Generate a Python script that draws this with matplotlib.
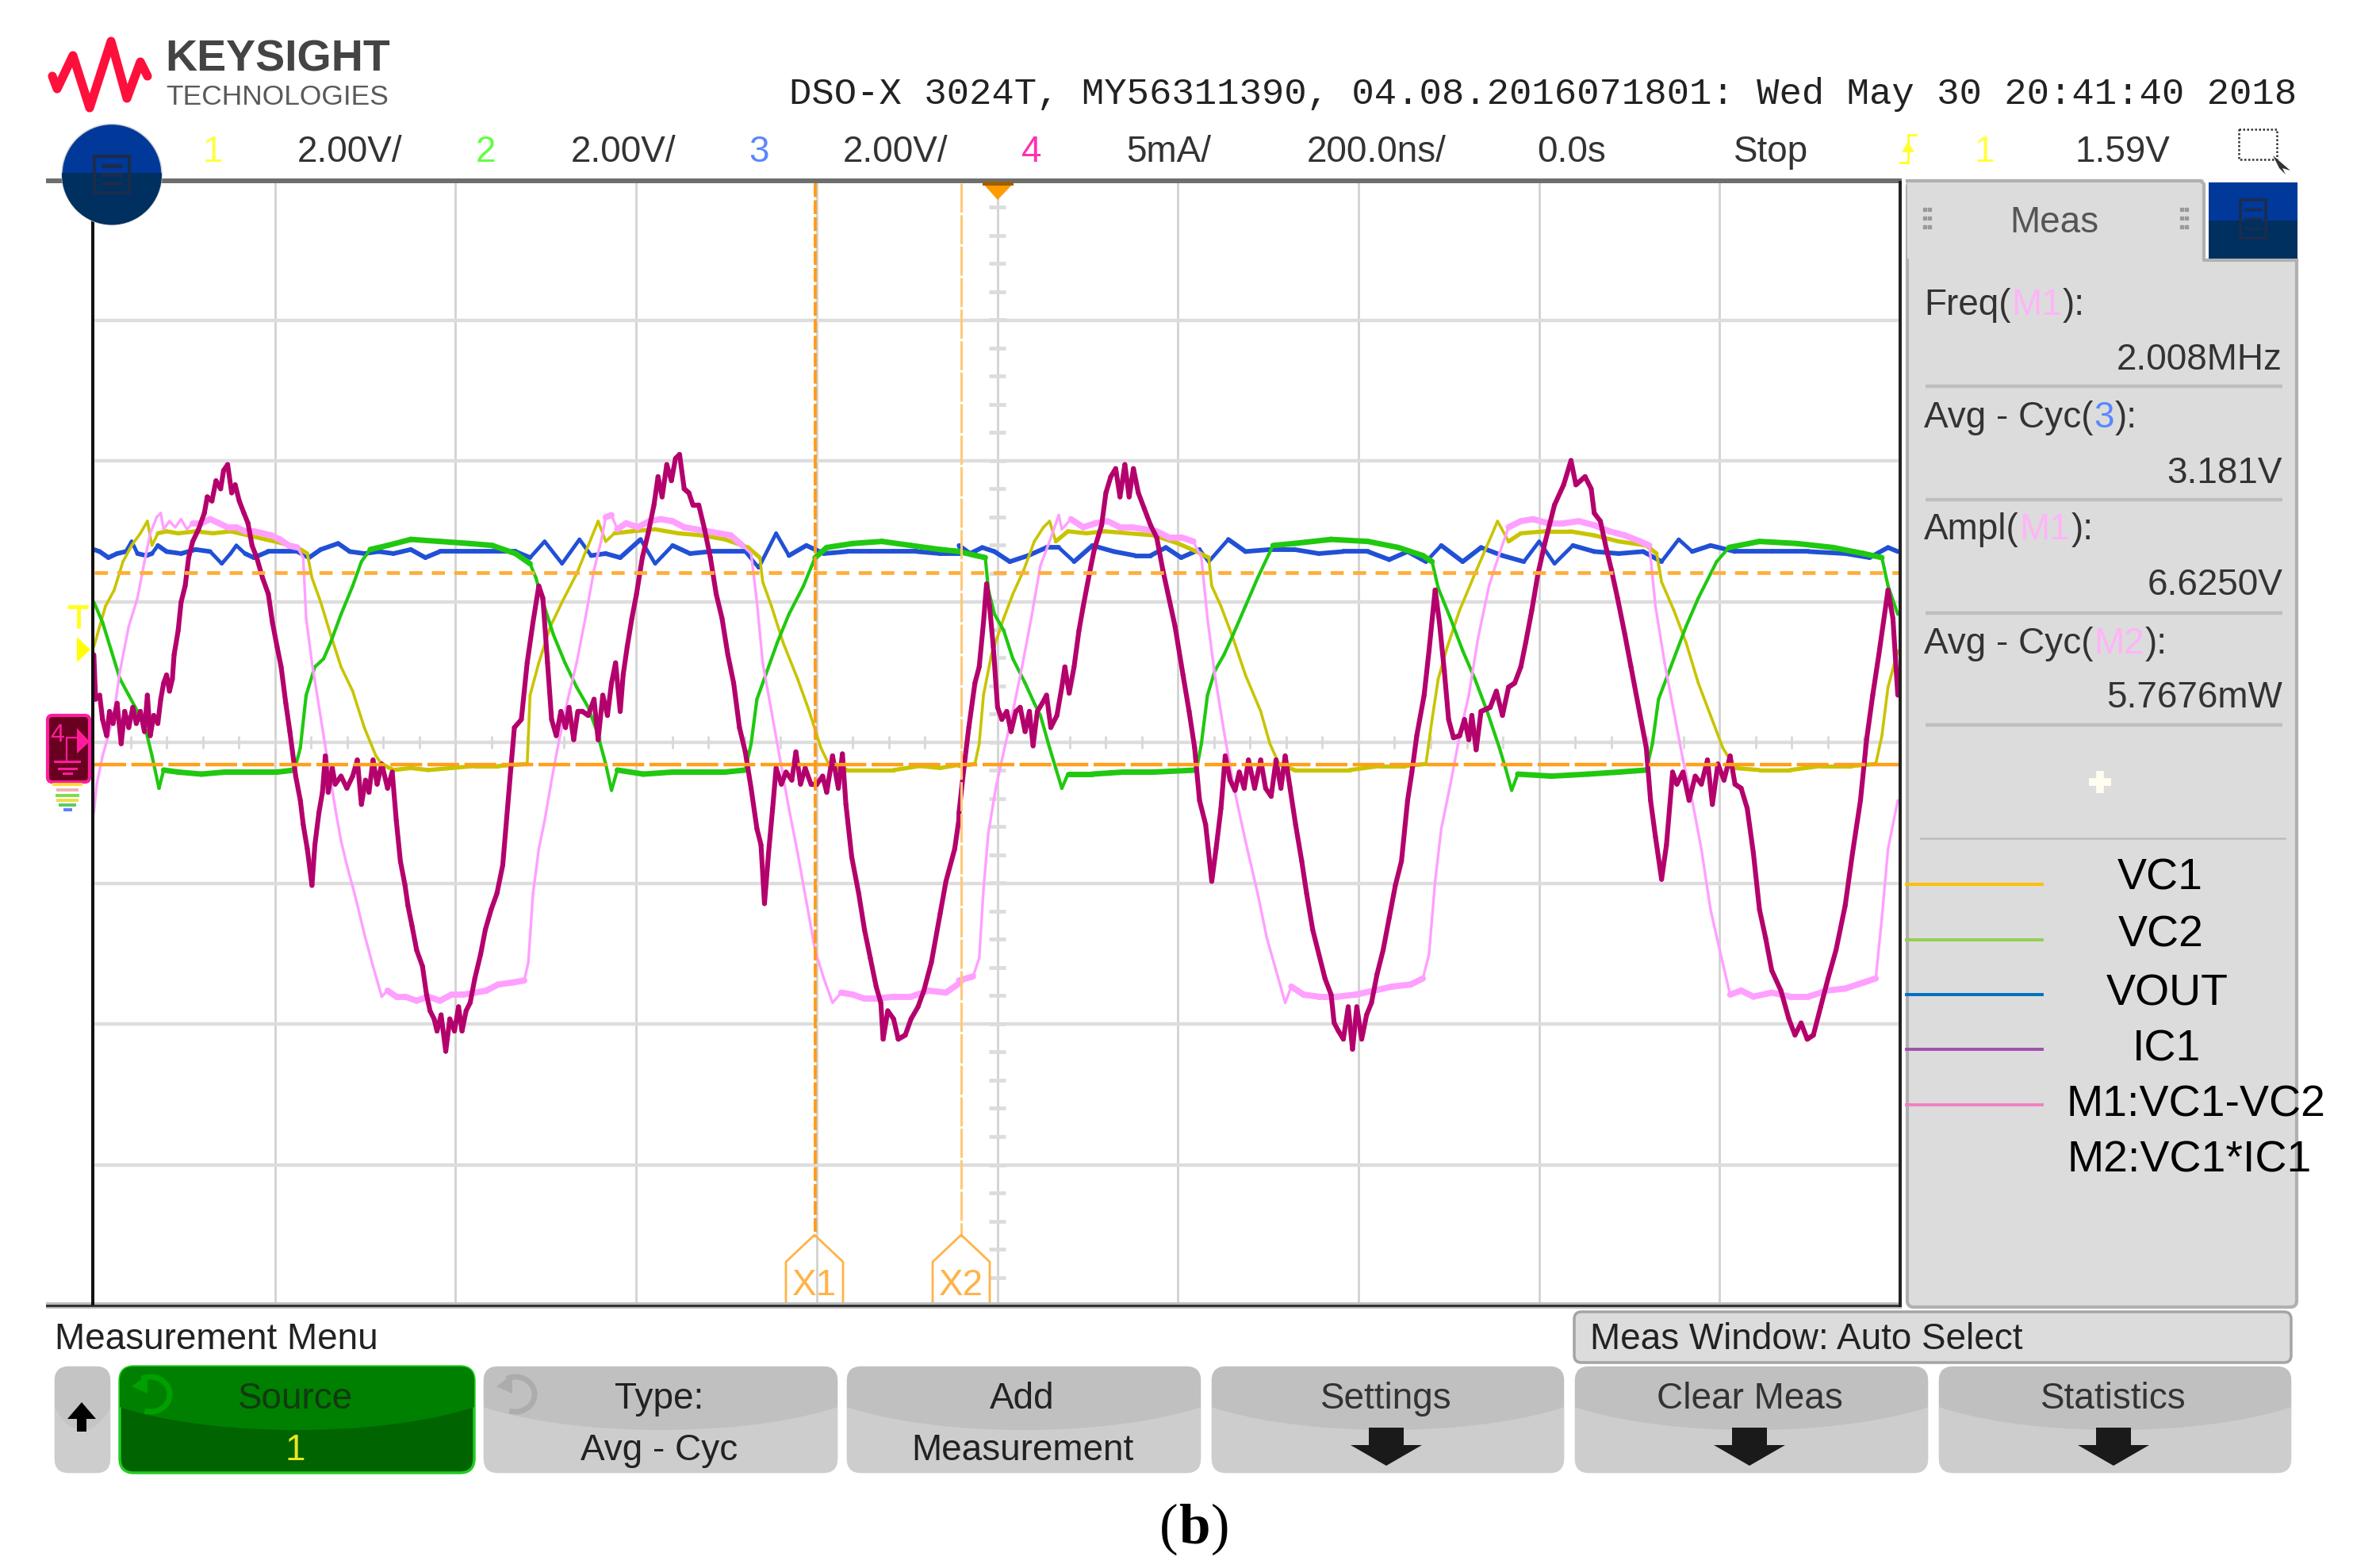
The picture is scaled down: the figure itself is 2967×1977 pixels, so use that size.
import numpy as np
import matplotlib
matplotlib.use("Agg")
import matplotlib.pyplot as plt
from matplotlib.collections import LineCollection
from matplotlib.patches import FancyBboxPatch, Rectangle, Ellipse, Polygon, Arc

# ---------- trace readings: (screen column, screen row) taken from two views ----------
IC1_A = [(25,540),(28,650),(35,640),(40,700),(47,740),(52,680),(58,710),(65,660),(72,760),(78,680),(85,720),(92,670),(98,710),(105,680),(112,730),(117,640),(122,740),(128,690),(135,710),(140,650),(145,610),(150,590),(155,630),(160,600),(163,540),(170,480),(175,410),(182,370),(188,300),(195,260),(205,230),(215,190),(220,150),(228,160),(235,110),(243,130),(248,85),(255,70),(262,140),(268,120),(275,160),(283,190),(290,215),(297,270),(305,300),(315,350),(325,390),(332,460),(340,520),(347,570),(355,660),(362,730),(372,840),(380,900),(385,960),(392,1020),(400,1110),(405,1010),(412,930),(418,880),(423,790),(428,880),(435,820),(440,860),(450,840),(460,870),(470,840),(478,800),(485,910),(492,850),(498,880),(505,800),(512,860),(520,810),(530,870),(538,830),(545,950),(552,1050),(560,1110),(565,1160),(572,1210),(580,1270),(590,1310),(597,1380),(603,1420),(610,1440),(615,1470),(622,1430),(630,1520),(637,1440),(645,1470),(652,1410),(658,1470),(665,1420),(672,1400),(680,1340),(690,1280),(698,1220),(708,1170),(718,1130),(728,1060),(735,940),(742,820),(748,720),(760,700),(770,560),(780,460),(790,370),(797,400),(805,560),(812,700),(820,740),(828,680),(836,720),(842,670),(850,750),(857,680),(865,680),(875,690),(885,650),(892,750),(900,640),(908,690),(915,610),(922,560),(930,680),(935,590),(942,520),(950,450),(958,390),(968,300),(978,240),(988,170),(995,100),(1002,150),(1010,70),(1018,110),(1025,55),(1032,45),(1040,130),(1048,140),(1055,170),(1065,170),(1075,230),(1085,300),(1095,390),(1105,450),(1115,540),(1125,610),(1135,720),(1145,780),(1155,870),(1165,970),(1172,1010),(1178,1155),(1185,1030),(1192,920),(1198,820),(1207,860),(1215,830),(1225,850),(1232,780),(1240,860),(1248,820),(1258,860),(1268,860),(1278,840),(1285,880),(1295,790),(1305,870),(1312,785),(1318,910),(1328,1040),(1340,1130),(1350,1220),(1360,1290),(1370,1360),(1378,1400),(1382,1490),(1390,1420),(1400,1440),(1408,1490),(1420,1480),(1430,1440),(1442,1410),(1452,1370),(1465,1300),(1480,1180),(1490,1100),(1505,1020),(1512,950)]
IC1_B = [(12,930),(20,820),(28,720),(38,610),(45,570),(52,460),(57,365),(62,420),(68,520),(75,670),(82,700),(90,680),(97,730),(105,680),(112,670),(120,730),(127,680),(133,765),(140,680),(148,660),(155,640),(162,720),(172,690),(180,620),(185,570),(192,635),(200,570),(208,480),(215,420),(225,340),(233,280),(245,220),(252,140),(260,100),(268,80),(275,150),(283,70),(290,150),(297,80),(305,140),(315,180),(325,220),(335,250),(345,330),(355,400),(365,470),(378,590),(388,680),(397,770),(405,900),(415,960),(425,1100),(432,1020),(440,920),(447,790),(455,850),(463,875),(470,830),(478,870),(485,800),(495,870),(505,800),(513,870),(522,890),(530,800),(538,870),(545,790),(553,870),(562,960),(572,1050),(580,1130),(590,1220),(600,1280),(610,1340),(620,1380),(625,1450),(632,1470),(640,1490),(648,1410),(655,1515),(662,1410),(670,1490),(678,1430),(686,1400),(695,1330),(705,1270),(715,1190),(725,1110),(735,1050),(745,900),(752,830),(760,740),(772,640),(780,530),(790,380),(797,460),(805,580),(812,700),(820,745),(830,740),(838,700),(845,750),(850,690),(857,775),(865,680),(880,670),(890,630),(900,690),(910,620),(920,610),(930,570),(938,510),(948,430),(958,340),(970,260),(985,170),(1000,120),(1012,60),(1020,120),(1035,100),(1045,130),(1050,190),(1060,210),(1070,280),(1078,330),(1088,400),(1100,490),(1110,570),(1125,690),(1135,770),(1142,900),(1150,990),(1160,1095),(1168,1010),(1178,830),(1185,860),(1195,830),(1205,900),(1215,840),(1225,860),(1235,800),(1243,910),(1252,810),(1262,850),(1272,790),(1280,860),(1290,870),(1300,920),(1310,1030),(1320,1170),(1330,1240),(1340,1320),(1355,1370),(1368,1440),(1378,1480),(1388,1450),(1398,1490),(1408,1480),(1420,1410),(1432,1340),(1445,1270),(1460,1160),(1472,1030),(1485,900),(1495,750),(1505,640),(1515,540),(1530,380),(1538,450),(1546,640)]
M1_A = [(25,930),(30,860),(40,790),(50,740),(60,680),(70,580),(85,470),(100,400),(112,310),(122,240),(133,200),(140,190),(145,230),(155,210),(165,225),(175,205),(185,230),(195,215),(210,215),(225,205),(240,215),(255,225),(270,225),(285,235),(300,235),(315,240),(330,245),(345,255),(360,270),(375,275),(385,300),(390,450),(400,560),(410,650),(420,740),(430,830),(440,920),(450,1000),(460,1060),(475,1140),(490,1230),(505,1310),(520,1385),(530,1370),(545,1385),(560,1385),(580,1395),(600,1385),(620,1395),(640,1380),(660,1380),(680,1375),(700,1370),(720,1355),(745,1350),(765,1345),(772,1300),(780,1130),(790,1020),(800,950),(812,850),(825,750),(840,650),(855,560),(870,450),(885,330),(897,260),(905,200),(915,195),(925,230),(940,215),(960,225),(980,210),(1000,205),(1020,210),(1040,225),(1060,230),(1080,235),(1100,240),(1120,245),(1140,270),(1155,290),(1165,410),(1175,560),(1190,680),(1205,800),(1220,920),(1235,1030),(1250,1150),(1265,1270),(1280,1340),(1295,1400),(1310,1375),(1330,1380),(1350,1390),(1370,1390),(1400,1385),(1430,1385),(1460,1370),(1490,1375),(1515,1350)]
M1_B = [(12,1345),(35,1335),(45,1290),(52,1120),(60,980),(72,870),(85,780),(100,680),(115,570),(130,450),(145,320),(160,260),(175,195),(180,230),(195,205),(215,225),(235,215),(255,210),(275,225),(295,225),(315,230),(335,235),(355,250),(375,250),(395,260),(408,300),(418,450),(430,590),(445,730),(460,860),(480,1000),(500,1130),(515,1240),(530,1320),(545,1400),(555,1360),(575,1380),(600,1385),(630,1385),(660,1380),(690,1370),(720,1360),(750,1355),(770,1340),(780,1280),(790,1100),(800,970),(815,860),(830,740),(845,640),(860,500),(878,370),(895,290),(910,225),(930,210),(950,205),(975,215),(1000,215),(1025,210),(1050,220),(1075,235),(1100,245),(1125,260),(1140,270),(1150,420),(1165,560),(1180,680),(1195,800),(1210,900),(1225,1020),(1240,1170),(1255,1270),(1272,1380),(1290,1370),(1310,1385),(1340,1375),(1370,1385),(1400,1385),(1430,1370),(1460,1365),(1490,1350),(1510,1340),(1520,1190),(1530,1020),(1546,900)]
VC1_A = [(25,520),(35,470),(45,420),(60,380),(75,310),(90,270),(105,240),(117,210),(125,270),(135,240),(150,235),(170,240),(200,235),(230,240),(260,235),(290,245),(320,255),(350,265),(375,275),(392,290),(400,350),(415,410),(432,490),(450,570),(470,630),(490,720),(510,790),(520,810),(540,825),(570,820),(600,825),(640,820),(680,815),(720,815),(770,810),(775,640),(790,560),(810,470),(830,410),(855,340),(875,270),(892,210),(905,260),(920,240),(950,235),(990,230),(1030,240),(1070,245),(1110,255),(1150,275),(1170,300),(1175,360),(1190,420),(1210,510),(1235,600),(1255,680),(1275,770),(1290,815),(1320,825),(1360,825),(1400,825),(1445,815),(1480,820),(1512,812)]
VC1_B = [(12,815),(38,810),(45,760),(52,640),(65,540),(85,450),(100,390),(118,330),(135,260),(150,225),(160,210),(170,260),(190,235),(220,240),(250,235),(290,240),(330,245),(370,265),(400,285),(420,300),(425,370),(440,420),(460,500),(480,590),(505,680),(520,760),(535,810),(560,825),(600,825),(650,825),(700,815),(740,815),(775,810),(785,700),(795,600),(810,520),(830,430),(855,340),(875,270),(892,210),(910,260),(930,240),(970,235),(1010,235),(1050,245),(1090,260),(1135,270),(1152,290),(1160,360),(1180,430),(1200,510),(1220,610),(1240,690),(1260,770),(1280,820),(1320,825),(1370,825),(1420,815),(1470,815),(1510,810),(1520,740),(1530,620),(1546,530)]
VC2_A = [(25,410),(40,460),(55,530),(70,600),(85,640),(100,680),(115,730),(125,790),(137,870),(145,825),(170,830),(210,835),(250,830),(300,830),(340,830),(370,825),(380,770),(390,640),(405,570),(420,550),(432,510),(450,440),(470,370),(485,310),(500,280),(530,270),(570,255),(620,260),(670,265),(710,270),(750,290),(775,315),(785,350),(795,400),(815,490),(835,560),(855,620),(875,670),(890,730),(905,810),(915,875),(925,825),(970,835),(1020,830),(1070,830),(1110,830),(1145,825),(1155,760),(1165,650),(1180,590),(1200,510),(1220,440),(1245,370),(1265,300),(1285,275),(1330,265),(1380,260),(1430,270),(1480,280),(1515,285)]
VC2_B = [(12,285),(40,295),(55,300),(60,380),(70,440),(85,480),(100,550),(120,610),(135,660),(145,690),(160,770),(170,820),(180,870),(190,835),(230,835),(280,830),(330,830),(400,825),(408,760),(418,640),(430,580),(445,540),(460,490),(480,420),(500,350),(525,270),(560,265),(620,255),(680,260),(730,275),(770,295),(785,310),(795,375),(815,450),(835,530),(855,600),(875,680),(895,770),(905,820),(915,875),(925,835),(980,840),(1040,835),(1090,830),(1135,825),(1145,760),(1155,650),(1175,570),(1200,470),(1220,400),(1250,310),(1270,275),(1320,260),(1380,265),(1440,275),(1490,290),(1520,300),(1530,370),(1546,440)]
VOUT_A = [(25,280),(35,285),(50,300),(65,290),(80,285),(90,260),(100,290),(115,295),(125,290),(135,270),(150,285),(175,290),(200,280),(225,285),(245,315),(260,290),(270,270),(285,290),(300,300),(325,285),(350,285),(375,285),(395,300),(415,280),(445,265),(465,285),(490,290),(515,285),(540,290),(570,280),(595,300),(620,285),(650,285),(680,285),(720,285),(750,285),(775,300),(800,260),(830,315),(860,255),(880,295),(905,290),(930,300),(965,255),(990,315),(1020,270),(1050,290),(1085,285),(1120,285),(1145,285),(1168,325),(1198,240),(1220,295),(1250,270),(1280,290),(1320,285),(1360,285),(1400,285),(1440,285),(1480,290),(1515,290)]
VOUT_B = [(12,270),(30,290),(50,275),(70,285),(95,310),(125,295),(155,275),(175,275),(200,310),(230,270),(265,285),(300,295),(325,295),(350,275),(375,300),(405,280),(420,310),(452,255),(480,285),(520,280),(560,280),(600,290),(640,285),(680,285),(715,305),(745,285),(775,310),(800,270),(835,310),(865,275),(900,295),(935,310),(960,260),(985,315),(1015,270),(1050,285),(1090,290),(1130,285),(1160,310),(1188,255),(1210,285),(1240,270),(1280,285),(1340,285),(1400,285),(1460,290),(1500,300),(1530,275),(1546,285)]

LEGEND_NAMES = ["VC1", "VC2", "VOUT", "IC1", "M1:VC1-VC2"]
LEGEND_COLORS = ["#ffc000", "#92d050", "#0070c0", "#a050ac", "#f080c0"]

SANS = ["Liberation Sans", "DejaVu Sans"]
DARK = "#333333"

W, H = 2967, 1977
fig = plt.figure(figsize=(W / 100, H / 100), dpi=100, facecolor="white")

# scope screen limits in figure pixels
SX0, SX1, SY0, SY1 = 119.0, 2396.0, 226.0, 1646.0
sc = fig.add_axes([SX0 / W, 1 - SY1 / H, (SX1 - SX0) / W, (SY1 - SY0) / H], zorder=1)
sc.set_xlim(-1000, 1000)   # ns, 200 ns/div
sc.set_ylim(-4, 4)         # divisions
sc.axis("off")


def trace(a, b):
    """Screen readings -> time (ns) and level (div)."""
    a, b = np.array(a, float), np.array(b, float)
    x = np.r_[100 + a[:, 0] * 1150 / 1568, 1200 + b[:, 0] * 1210 / 1568]
    y = np.r_[550 + a[:, 1] * 800 / 1568, 550 + b[:, 1] * 800 / 1568]
    t = (x - (SX0 + SX1) / 2) / (SX1 - SX0) * 2000
    d = ((SY0 + SY1) / 2 - y) / (SY1 - SY0) * 8
    return t, d


def draw_trace(a, b, color, lw_flat, lw_steep, z):
    """The trace looks thicker where it runs flat (noise band) and thin on the slopes."""
    t, d = trace(a, b)
    pts = np.column_stack([t, d])
    segs = np.stack([pts[:-1], pts[1:]], axis=1)
    slope = np.abs(np.diff(d) * 177.5) / np.maximum(np.abs(np.diff(t)) * 1.1385, 0.1)
    widths = np.where(slope < 0.9, lw_flat, lw_steep)
    sc.add_collection(LineCollection(segs, colors=color, linewidths=widths, capstyle="round", zorder=z))


# graticule
for v in np.arange(-4, 5):
    sc.axvline(v * 200, color="#d2d2d2", lw=2.0, zorder=1)
for v in np.arange(-3, 4):
    sc.axhline(v, color="#dddddd", lw=3.2, zorder=1)
for v in np.arange(-3.8, 3.81, 0.2):
    sc.plot([-9, 9], [v, v], color="#dcdcdc", lw=3.4, zorder=1, solid_capstyle="butt")
for v in np.arange(-4.8, 4.81, 0.2):
    sc.plot([v * 200, v * 200], [-0.045, 0.045], color="#d8d8d8", lw=2.0, zorder=1, solid_capstyle="butt")

# traces
draw_trace(VOUT_A, VOUT_B, "#2150d6", 4.2, 3.4, 3)
draw_trace(VC1_A, VC1_B, "#c9c400", 3.8, 2.6, 4)
draw_trace(VC2_A, VC2_B, "#20c810", 5.0, 3.0, 5)
draw_trace(M1_A, M1_B, "#ff9fff", 5.6, 2.4, 6)
draw_trace(IC1_A, IC1_B, "#b4006c", 4.6, 4.4, 7)

# ---------- overlay in figure pixels ----------
ov = fig.add_axes([0, 0, 1, 1], zorder=2)
ov.set_xlim(0, W)
ov.set_ylim(H, 0)
ov.axis("off")
ov.patch.set_alpha(0)

# cursors
ov.plot([SX0, SX1], [722, 722], color="#ffae3a", lw=3.4, dashes=(3.5, 2.5), zorder=8)
ov.plot([SX0, SX1], [964, 964], color="#ff9f1c", lw=3.2, dashes=(9, 1.5), zorder=8)
ov.plot([1028, 1028], [231, 1560], color="#ff9a1a", lw=2.8, dashes=(4.5, 1), zorder=8)
ov.plot([1212, 1212], [231, 1560], color="#ffc878", lw=2.2, dashes=(12, 1), zorder=8)
for xc, name in [(1027, "X1"), (1212, "X2")]:
    ov.plot([xc - 36, xc - 36, xc, xc + 36, xc + 36], [1646, 1591, 1557, 1591, 1646], color="#ffb347", lw=2.0, zorder=8)
    ov.text(xc, 1621, name, ha="center", va="center", family=SANS, fontsize=33, color="#ffb347", zorder=8)

# frame
ov.add_patch(Rectangle((58, 225), 2340, 6, fc="#6e6e6e", ec="none", zorder=9))
ov.add_patch(Rectangle((58, 1642), 2340, 8, fc="#bdbdbd", ec="none", zorder=9))
ov.add_patch(Rectangle((58, 1645), 2340, 3, fc="#333333", ec="none", zorder=9))
ov.add_patch(Rectangle((115, 231), 4, 1415, fc="#111111", ec="none", zorder=9))
ov.add_patch(Rectangle((2394, 228), 4, 1420, fc="#222222", ec="none", zorder=9))

# trigger marker
ov.add_patch(Polygon([(1239, 231), (1278, 231), (1258, 252)], fc="#ff9a00", ec="none", zorder=9))
ov.add_patch(Rectangle((1239, 229), 39, 5, fc="#9c6000", ec="none", zorder=10))

# left markers
ov.plot([85, 111], [765, 765], color="#ffff20", lw=3.5, zorder=9, solid_capstyle="butt")
ov.plot([98.5, 98.5], [765, 792], color="#ffff20", lw=3.5, zorder=9, solid_capstyle="butt")
ov.add_patch(Polygon([(97, 803), (114, 819), (97, 835)], fc="#ffff00", ec="none", zorder=9))
ov.add_patch(FancyBboxPatch((60, 902), 53, 84, boxstyle="round,pad=0,rounding_size=6", fc="#6a0020", ec="#ff1c9c", lw=3, zorder=9))
ov.text(72, 927, "4", color="#ff1c9c", family=SANS, fontsize=23, ha="center", va="center", zorder=10)
ov.add_patch(Polygon([(97, 918), (113, 935), (97, 950)], fc="#ff1c9c", ec="none", zorder=10))
ov.plot([84, 84, 97], [958, 930, 930], color="#ff1c9c", lw=1.6, zorder=10)
for y, a, b in [(960, 69, 100), (969, 74, 96), (975, 80, 90)]:
    ov.plot([a, b], [y, y], color="#ff1c9c", lw=2.2, zorder=10)
for y, w, c in [(989, 38, "#ffdc33"), (996, 28, "#f4b0b0"), (1003, 30, "#7edc4c"), (1009, 28, "#f0dc40"), (1015, 22, "#5acb60"), (1021, 11, "#5a80ff")]:
    ov.plot([85 - w / 2, 85 + w / 2], [y, y], color=c, lw=2.8, zorder=9, solid_capstyle="butt")

# logo
ov.plot([66, 72, 92, 113, 140, 160, 177, 186], [96, 112, 70, 136, 52, 124, 78, 96],
        color="#ff0f3c", lw=8, solid_joinstyle="round", solid_capstyle="round", zorder=5)
ov.text(208, 76, "KEYSIGHT", family=SANS, fontsize=40, fontweight="bold", color="#444444", va="center", ha="left")
ov.text(209, 123, "TECHNOLOGIES", family=SANS, fontsize=25.5, color="#5a5a5a", va="center", ha="left")

# header
ov.text(995, 119, "DSO-X 3024T, MY56311390, 04.08.2016071801: Wed May 30 20:41:40 2018",
        family=["Liberation Mono", "DejaVu Sans Mono"], fontsize=34, color="#222222", ha="left", va="center")
row = [(268, "1", "#ffff40"), (441, "2.00V/", DARK), (612, "2", "#60ff40"), (786, "2.00V/", DARK),
       (957, "3", "#5a86ff"), (1129, "2.00V/", DARK), (1301, "4", "#ff30b0"), (1474, "5mA/", DARK),
       (1736, "200.0ns/", DARK), (1982, "0.0s", DARK), (2233, "Stop", DARK), (2502, "1", "#ffff40"), (2676, "1.59V", DARK)]
for x, s, c in row:
    ov.text(x, 192, s, family=SANS, fontsize=33, color=c, ha="center", va="center")
ov.plot([2416, 2406, 2406, 2396], [170, 170, 205, 205], color="#ffff30", lw=2.2)
ov.add_patch(Polygon([(2398, 192), (2406, 178), (2414, 192)], fc="#ffff30", ec="none"))
ov.add_patch(Rectangle((2823, 163), 48, 38, fc="none", ec="#333333", lw=1.8, ls=(0, (1, 1))))
ov.add_patch(Polygon([(2866, 196), (2888, 215), (2878, 212), (2882, 220), (2874, 212)], fc="#333333", ec="none"))

# blue menu circle
circle = Ellipse((141, 220), 126, 127, fc="#00399a", ec="#cfcfcf", lw=1.0, zorder=12)
ov.add_patch(circle)
low = Rectangle((70, 218), 140, 70, fc="#00305f", ec="none", zorder=12)
ov.add_patch(low)
low.set_clip_path(circle)
ov.add_patch(Rectangle((119, 197), 44, 46, fc="none", ec="#1c2c4c", lw=3, zorder=13))
for y in (209, 220, 231):
    ov.plot([128, 154], [y, y], color="#1c2c4c", lw=3.5, zorder=13, solid_capstyle="butt")

# right panel
ov.add_patch(FancyBboxPatch((2405, 228), 491, 1420, boxstyle="round,pad=0,rounding_size=8", fc="#dcdcdc", ec="#b0b0b0", lw=3, zorder=3))
ov.add_patch(Rectangle((2779, 226), 120, 101, fc="white", ec="none", zorder=4))
ov.add_patch(Rectangle((2405, 226), 374, 100, fc="#dcdcdc", ec="none", zorder=4))
ov.plot([2405, 2775, 2779, 2779, 2896], [228, 228, 232, 328, 328], color="#b0b0b0", lw=3, zorder=5)
ov.add_patch(Rectangle((2785, 230), 112, 48, fc="#00399a", ec="none", zorder=6))
ov.add_patch(Rectangle((2785, 278), 112, 48, fc="#00305f", ec="none", zorder=6))
ov.add_patch(Rectangle((2825, 252), 32, 48, fc="none", ec="#1c2c4c", lw=2.6, zorder=7))
for y in (264, 276, 288):
    ov.plot([2830, 2852], [y, y], color="#1c2c4c", lw=2.4, zorder=7, solid_capstyle="butt")
ov.text(2590, 281, "Meas", family=SANS, fontsize=33, color="#555555", ha="center", va="center", zorder=7)
for gx in (2427, 2433, 2751, 2757):
    for gy in (264, 275, 286):
        ov.plot([gx], [gy], "s", ms=2.5, color="#9a9a9a", zorder=7)

rend = fig.canvas.get_renderer()


def pieces(x, y, parts):
    for s, c in parts:
        t = ov.text(x, y, s, family=SANS, fontsize=33, color=c, ha="left", va="center", zorder=7)
        x += t.get_window_extent(rend).width + 1


PK = "#ffb4f8"
pieces(2426, 385, [("Freq(", DARK), ("M1", PK), ("):", DARK)])
pieces(2426, 527, [("Avg - Cyc(", DARK), ("3", "#5a86ff"), ("):", DARK)])
pieces(2426, 668, [("Ampl(", DARK), ("M1", PK), ("):", DARK)])
pieces(2426, 812, [("Avg - Cyc(", DARK), ("M2", PK), ("):", DARK)])
for y, s in [(454, "2.008MHz"), (597, "3.181V"), (738, "6.6250V"), (880, "5.7676mW")]:
    ov.text(2878, y, s, family=SANS, fontsize=33, color=DARK, ha="right", va="center", zorder=7)
for y in (487, 630, 773, 914):
    ov.plot([2428, 2878], [y, y], color="#bebebe", lw=3.2, zorder=7, solid_capstyle="butt")
ov.plot([2422, 2881], [1057, 1057], color="#bcbcbc", lw=1.8, zorder=7)
ov.plot([2634, 2662], [986, 986], color="#fffdf0", lw=7, zorder=7, solid_capstyle="butt")
ov.plot([2648, 2648], [972, 1000], color="#fffdf0", lw=7, zorder=7, solid_capstyle="butt")

# pasted legend
LEG_LINE_Y = [1115, 1185, 1254, 1323, 1393]
LEG_TEXT = [(2724, 1108), (2725, 1180), (2733, 1254), (2732, 1324), (2769, 1394)]
for name, col, ly, (tx, ty) in zip(LEGEND_NAMES, LEGEND_COLORS, LEG_LINE_Y, LEG_TEXT):
    ov.plot([2404, 2575], [ly, ly], color=col, lw=2.8, zorder=8)
    ov.text(tx, ty, name, family=SANS, fontsize=40, color="black", ha="center", va="center", zorder=8)
ov.text(2761, 1464, "M2:VC1*IC1", family=SANS, fontsize=40, color="black", ha="center", va="center", zorder=8)

# bottom menu
ov.text(69, 1689, "Measurement Menu", family=SANS, fontsize=33, color="#222222", ha="left", va="center")
box = FancyBboxPatch((1985, 1654), 904, 64, boxstyle="round,pad=0,rounding_size=9", fc="#dcdcdc", ec="#a4a4a4", lw=2.5)
ov.add_patch(box)
ov.text(2005, 1689, "Meas Window: Auto Select", family=SANS, fontsize=33, color="#222222", ha="left", va="center")


def button(x0, x1, light, dark, edge=None):
    b = FancyBboxPatch((x0, 1723), x1 - x0, 134, boxstyle="round,pad=0,rounding_size=18",
                       fc=light, ec=edge or light, lw=2.5 if edge else 0.5)
    ov.add_patch(b)
    w = x1 - x0
    e = Ellipse(((x0 + x1) / 2, 1723), w * 1.3, 160, fc=dark, ec="none")
    ov.add_patch(e)
    e.set_clip_path(b)


button(69, 139, "#cdcdcd", "#c4c4c4")
button(151, 598, "#006400", "#008000", "#22cc22")
for x0, x1 in [(610, 1056), (1068, 1514), (1528, 1972), (1986, 2431), (2445, 2889)]:
    button(x0, x1, "#cdcdcd", "#c0c0c0")

ov.text(373, 1764, "Source", family=SANS, fontsize=33, color="#123a12", ha="center", va="center")
ov.text(372, 1829, "1", family=SANS, fontsize=33, color="#e8e820", ha="center", va="center")
ov.text(831, 1764, "Type:", family=SANS, fontsize=33, color="#222222", ha="center", va="center")
ov.text(831, 1829, "Avg - Cyc", family=SANS, fontsize=33, color="#222222", ha="center", va="center")
ov.text(1289, 1764, "Add", family=SANS, fontsize=33, color="#222222", ha="center", va="center")
ov.text(1289, 1829, "Measurement", family=SANS, fontsize=33, color="#222222", ha="center", va="center")
ov.text(1748, 1764, "Settings", family=SANS, fontsize=33, color="#333333", ha="center", va="center")
ov.text(2206, 1764, "Clear Meas", family=SANS, fontsize=33, color="#333333", ha="center", va="center")
ov.text(2665, 1764, "Statistics", family=SANS, fontsize=33, color="#333333", ha="center", va="center")

for cx in (1748, 2206, 2665):
    ov.add_patch(Polygon([(cx - 22, 1800), (cx + 22, 1800), (cx + 22, 1822), (cx + 45, 1822), (cx, 1848), (cx - 45, 1822), (cx - 22, 1822)],
                         fc="#1a1a1a", ec="none"))
ov.add_patch(Polygon([(103, 1768), (121, 1789), (109, 1789), (109, 1805), (97, 1805), (97, 1789), (85, 1789)], fc="black", ec="none"))
for cx, col in [(190, "#00a000"), (650, "#acacac")]:
    ov.add_patch(Arc((cx, 1758), 48, 44, theta1=-120, theta2=110, color=col, lw=5))
    ov.add_patch(Polygon([(cx - 24, 1748), (cx - 4, 1733), (cx - 4, 1757)], fc=col, ec="none"))

# caption
SERIF = ["Liberation Serif", "DejaVu Serif"]
ov.text(1462, 1928, "(", family=SERIF, fontsize=51, ha="left", va="center", color="black")
ov.text(1506, 1928, "b", family=SERIF, fontsize=51, fontweight="bold", ha="center", va="center", color="black")
ov.text(1550, 1928, ")", family=SERIF, fontsize=51, ha="right", va="center", color="black")

fig.savefig("out.png", dpi=100, facecolor="white")
